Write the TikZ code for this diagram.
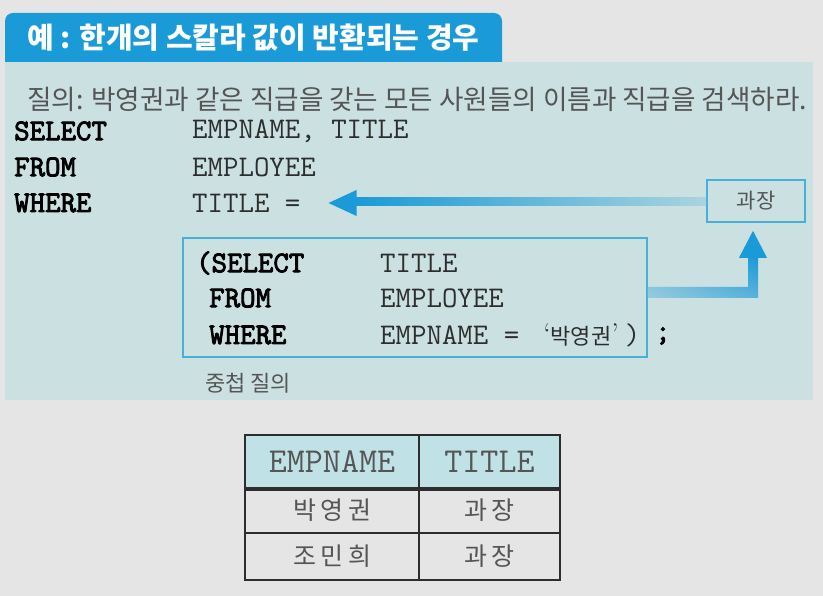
\documentclass[tikz,border=0pt]{standalone}
\usepackage{fontspec}
\usepackage{graphicx}
\usetikzlibrary{calc,shadings}
\newfontfamily\kr{Noto Sans CJK KR}
\newfontfamily\krsp[LetterSpace=18]{Noto Sans CJK KR}
\newfontfamily\cw{Latin Modern Mono}
\newfontfamily\cwb[FakeBold=3]{Latin Modern Mono}
\definecolor{bggray}{RGB}{229,229,229}
\definecolor{panel}{RGB}{202,224,225}
\definecolor{tabblue}{RGB}{26,154,214}
\definecolor{boxline}{RGB}{72,176,216}
\definecolor{txtgray}{RGB}{85,85,85}
\definecolor{codedark}{RGB}{45,45,45}
\definecolor{headfill}{RGB}{192,225,230}
\definecolor{tline}{RGB}{45,45,45}
\tikzset{
  txt/.style={inner sep=0pt, anchor=west},
  kw/.style={txt, text=black, font=\cwb\fontsize{30}{32}\selectfont},
  code/.style={txt, text=codedark, font=\cw\fontsize{30}{32}\selectfont},
  qbox/.style={draw=boxline, line width=1.6pt, inner sep=0pt},
  cell/.style={draw=tline, line width=1.8pt, inner sep=0pt, text=txtgray},
}
\begin{document}
\begin{tikzpicture}[x=1pt,y=-1pt]
\useasboundingbox (0,0) rectangle (823,596);
\fill[bggray] (0,0) rectangle (823,596);
% title tab and panel
\fill[tabblue, rounded corners=8pt] (5,13) rectangle (502,72);
\fill[panel] (5,62) rectangle (813,400);
\node[txt, text=white, font=\kr\bfseries\fontsize{29}{32}\selectfont] (title) at (27,38) {예 : 한개의 스칼라 값이 반환되는 경우};
\node[txt, text=txtgray, font=\kr\fontsize{27}{30}\selectfont] (query) at (27,99) {\scalebox{0.985}[1]{질의: 박영권과 같은 직급을 갖는 모든 사원들의 이름과 직급을 검색하라.}};
% outer query
\node[kw] (s1) at (14,131) {SELECT};
\node[code] (v1) at (192,131) {EMPNAME, TITLE};
\node[kw] (s2) at (14,167) {FROM};
\node[code] (v2) at (192,167) {EMPLOYEE};
\node[kw] (s3) at (14,203) {WHERE};
\node[code] (v3) at (192,203) {TITLE =};
% result box
\node[qbox, minimum width=98pt, minimum height=42pt, text=txtgray, font=\kr\fontsize{21}{24}\selectfont] (gwa) at (756,201) {과장};
% inner query box
\node[qbox, minimum width=464pt, minimum height=119pt] (inner) at (415,297.5) {};
\node[kw] (i1) at (196,263) {(SELECT};
\node[code] (j1) at (380,263) {TITLE};
\node[kw] (i2) at (209,298) {FROM};
\node[code] (j2) at (380,298) {EMPLOYEE};
\node[kw] (i3) at (209,335) {WHERE};
\node[code] (j3) at (380,335) {EMPNAME =\hspace{24pt}{\rmfamily\fontsize{30}{32}\selectfont ‘}{\kr\fontsize{22}{26}\selectfont 박영권}{\rmfamily\fontsize{30}{32}\selectfont ’}\hspace{6pt})};
\node[kw] (semi) at (655,336) {;};
\node[txt, text=txtgray, font=\kr\fontsize{22}{26}\selectfont] (nested) at (205,383) {중첩 질의};
% left arrow: from result box to TITLE =
\coordinate (ltip) at ($(v3.east)+(28,0)$);
\shade[left color=tabblue, right color=tabblue!18!panel] ($(ltip)+(26,-5)$) rectangle ($(gwa.west)+(0,5)$);
\fill[tabblue] (ltip) -- ++(28,-13) -- ++(0,26) -- cycle;
% up arrow: from inner box to result box
\coordinate (ua) at ($(inner.east)+(0,-5)$);
\coordinate (ub) at ($(gwa.south)+(-3,8)$);
\shade[lower left=tabblue!30!panel, upper left=tabblue!50!panel, lower right=tabblue!65!panel, upper right=tabblue]
  ($(ua)+(0,-5.5)$) -- ($(ub|-ua)+(-5,-5.5)$) -- ($(ub)+(-5,27)$) -- ($(ub)+(5,27)$) -- ($(ub|-ua)+(5,5.5)$) -- ($(ua)+(0,5.5)$) -- cycle;
\fill[tabblue] (ub) -- ($(ub)+(-14,27)$) -- ($(ub)+(14,27)$) -- cycle;
% result table
\node[cell, fill=headfill, minimum width=174pt, minimum height=53pt, font=\cw\fontsize{35}{38}\selectfont] (h1) at (332,461.5) {EMPNAME};
\node[cell, fill=headfill, minimum width=141pt, minimum height=53pt, font=\cw\fontsize{35}{38}\selectfont] (h2) at (489.5,461.5) {TITLE};
\node[cell, minimum width=174pt, minimum height=45pt, font=\krsp\fontsize{25}{28}\selectfont] (r11) at (332,510.5) {박영권};
\node[cell, minimum width=141pt, minimum height=45pt, font=\krsp\fontsize{25}{28}\selectfont] (r12) at (489.5,510.5) {과장};
\node[cell, minimum width=174pt, minimum height=47pt, font=\krsp\fontsize{25}{28}\selectfont] (r21) at (332,556.5) {조민희};
\node[cell, minimum width=141pt, minimum height=47pt, font=\krsp\fontsize{25}{28}\selectfont] (r22) at (489.5,556.5) {과장};
\draw[tline, line width=3.5pt] (h1.south west) -- (h2.south east);
\end{tikzpicture}
\end{document}
